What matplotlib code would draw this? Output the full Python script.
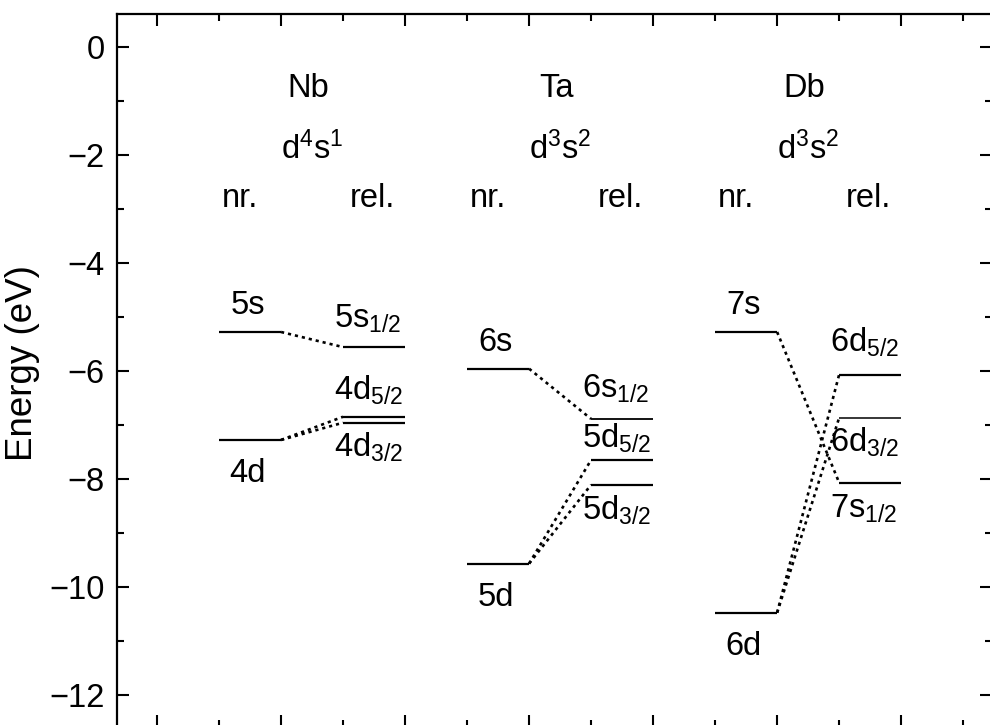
import numpy as np
import matplotlib
matplotlib.use('Agg')
import matplotlib.pyplot as plt
from matplotlib.ticker import MultipleLocator

plt.rcParams['font.family'] = ['Liberation Sans', 'DejaVu Sans']
plt.rcParams['mathtext.default'] = 'regular'

# ---- level data (eV) ----
elements = ['Nb', 'Ta', 'Db']
configs = ['d$^{4}$s$^{1}$', 'd$^{3}$s$^{2}$', 'd$^{3}$s$^{2}$']

# non-relativistic levels
nr_labels = [['5s', '4d'], ['6s', '5d'], ['7s', '6d']]
nr_levels = [[-5.28, -7.28], [-5.96, -9.57], [-5.28, -10.48]]

# relativistic levels
rel_labels = [['5s$_{1/2}$', '4d$_{5/2}$', '4d$_{3/2}$'],
              ['6s$_{1/2}$', '5d$_{5/2}$', '5d$_{3/2}$'],
              ['6d$_{5/2}$', '6d$_{3/2}$', '7s$_{1/2}$']]
rel_levels = [[-5.56, -6.85, -6.96],
              [-6.89, -7.65, -8.11],
              [-6.07, -6.87, -8.07]]

# (nr index, rel index) pairs joined by dotted correlation lines
links = [[(0, 0), (1, 1), (1, 2)],
         [(0, 0), (1, 1), (1, 2)],
         [(0, 2), (1, 0), (1, 1)]]

# vertical text offsets for the rel. level labels
rel_label_dy = [[0.37, 0.31, -0.63],
                [0.39, 0.22, -0.65],
                [0.42, -0.63, -0.65]]
rel_lw = [[1.6, 1.6, 1.6], [1.3, 1.6, 1.6], [1.6, 1.1, 1.6]]

fig = plt.figure(figsize=(9.9, 7.25), dpi=100)
ax = fig.add_axes([0.1182, -0.003, 0.884, 0.9837])

FS = 23.5
for i, el in enumerate(elements):
    base = 2 * i
    # headers
    ax.text(base + 1.22, -0.93, el, ha='center', va='baseline', fontsize=FS)
    ax.text(base + 1.25, -2.08, configs[i], ha='center', va='baseline', fontsize=FS)
    ax.text(base + 0.67, -2.96, 'nr.', ha='center', va='baseline', fontsize=FS)
    ax.text(base + 1.74, -2.96, 'rel.', ha='center', va='baseline', fontsize=FS)

    # nr. levels
    for j, (lab, e) in enumerate(zip(nr_labels[i], nr_levels[i])):
        ax.plot([base + 0.5, base + 1.0], [e, e], color='black', lw=1.6,
                solid_capstyle='butt')
        dy = 0.33 if j == 0 else -0.78
        ax.text(base + 0.73, e + dy, lab, ha='center', va='baseline', fontsize=FS)

    # rel. levels
    for j, (lab, e) in enumerate(zip(rel_labels[i], rel_levels[i])):
        ax.plot([base + 1.5, base + 2.0], [e, e], color='black', lw=rel_lw[i][j],
                solid_capstyle='butt')
        ax.text(base + 1.43, e + rel_label_dy[i][j], lab, ha='left',
                va='baseline', fontsize=FS)

    # correlation lines
    for a, b in links[i]:
        ax.plot([base + 1.0, base + 1.5], [nr_levels[i][a], rel_levels[i][b]],
                color='black', lw=1.9, linestyle=(0, (1.2, 1.5)))

ax.set_xlim(-0.3226, 6.734)
ax.set_ylim(-12.6, 0.61)

ax.xaxis.set_major_locator(MultipleLocator(1))
ax.xaxis.set_minor_locator(MultipleLocator(0.5))
ax.yaxis.set_major_locator(MultipleLocator(2))
ax.yaxis.set_minor_locator(MultipleLocator(1))
ax.tick_params(which='both', direction='in', top=True, right=True,
               bottom=True, left=True, labelbottom=False, width=1.5)
ax.tick_params(which='major', length=8.5, labelsize=FS, pad=9)
ax.tick_params(which='minor', length=5)
ax.set_yticks(np.arange(-12, 1, 2))
ax.set_yticklabels([f'{v}'.replace('-', '\u2212') for v in range(-12, 1, 2)])

for s in ax.spines.values():
    s.set_linewidth(1.6)

ax.set_ylabel('Energy (eV)', fontsize=26.5)
ax.yaxis.set_label_coords(-0.088, 0.51)

fig.savefig('out.png', dpi=100)
